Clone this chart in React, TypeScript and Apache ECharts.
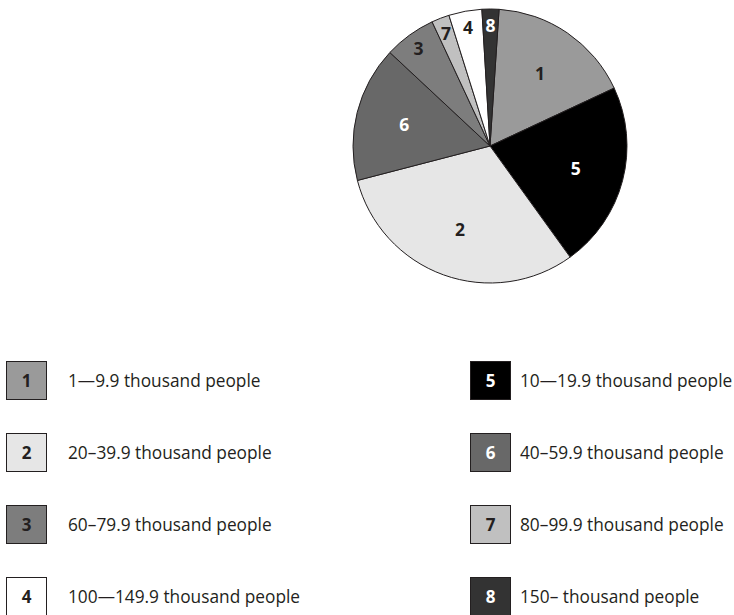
import React, { useEffect, useRef } from "react";
import * as echarts from "echarts";

// Data (clockwise order from the top of the pie)
const categories = ["1", "5", "2", "6", "3", "7", "4", "8"];
const descriptions = [
  "1—9.9 thousand people",
  "10—19.9 thousand people",
  "20–39.9 thousand people",
  "40–59.9 thousand people",
  "60–79.9 thousand people",
  "80–99.9 thousand people",
  "100—149.9 thousand people",
  "150– thousand people",
];
const shares = [17.0, 22.0, 30.9, 16.0, 6.1, 2.1, 3.9, 2.0];
const leftLegend = ["1", "2", "3", "4"];
const rightLegend = ["5", "6", "7", "8"];

// Styles
const sliceColors: Record<string, string> = {
  "1": "#9a9a9a",
  "2": "#e6e6e6",
  "3": "#7d7d7d",
  "4": "#ffffff",
  "5": "#000000",
  "6": "#686868",
  "7": "#c0c0c0",
  "8": "#333333",
};
const whiteLabels = ["5", "6", "8"];
const INK = "#231f20";
const FONT = "'Open Sans', 'Noto Sans', sans-serif";

const labelColor = (c: string) => (whiteLabels.includes(c) ? "#ffffff" : INK);

export default function App() {
  const ref = useRef<HTMLDivElement>(null);

  useEffect(() => {
    if (!ref.current) return;
    const chart = echarts.init(ref.current, null, { renderer: "svg" });

    const rich: Record<string, any> = {
      t: { fontSize: 17.3, color: INK, fontFamily: FONT, padding: [0, 0, 0, 22], lineHeight: 37, verticalAlign: "middle" },
      tr: { fontSize: 17.3, color: INK, fontFamily: FONT, padding: [0, 0, 0, 10], lineHeight: 37, verticalAlign: "middle" },
    };
    categories.forEach((c) => {
      rich["b" + c] = {
        width: 39,
        height: 37,
        lineHeight: 37,
        align: "center",
        verticalAlign: "middle",
        backgroundColor: sliceColors[c],
        borderColor: INK,
        borderWidth: 1,
        fontWeight: "bold",
        fontSize: 17,
        fontFamily: FONT,
        color: labelColor(c),
      };
    });

    const legendFormatter = (name: string) => {
      const i = categories.indexOf(name);
      const key = rightLegend.includes(name) ? "tr" : "t";
      return `{b${name}|${name}}{${key}|${descriptions[i]}}`;
    };

    const legendBase = {
      orient: "vertical",
      top: 361,
      height: 500,
      padding: 0,
      itemGap: 33,
      itemWidth: 0,
      itemHeight: 0,
      icon: "none",
      selectedMode: false,
      formatter: legendFormatter,
      textStyle: { rich, fontFamily: FONT },
    };

    const baseData = categories.map((c, i) => ({ name: c, value: shares[i] }));

    const labelSeries = (r0: number, showFn: (v: number) => boolean) => ({
      type: "pie",
      center: [490, 146],
      radius: [r0, 137],
      startAngle: 86.2,
      silent: true,
      avoidLabelOverlap: false,
      emphasis: { disabled: true },
      labelLine: { show: false },
      itemStyle: { color: "transparent", borderWidth: 0 },
      data: categories.map((c, i) => ({
        name: c,
        value: shares[i],
        itemStyle: { color: "transparent" },
        label: {
          show: showFn(shares[i]),
          position: "inside",
          formatter: "{b}",
          fontFamily: FONT,
          fontWeight: "bold",
          fontSize: 17.5,
          color: labelColor(c),
        },
      })),
    });

    chart.setOption({
      animation: false,
      legend: [
        { ...legendBase, left: 2, data: leftLegend },
        { ...legendBase, left: 466, data: rightLegend },
      ],
      series: [
        {
          type: "pie",
          center: [490, 146],
          radius: [0, 137],
          startAngle: 86.2,
          avoidLabelOverlap: false,
          emphasis: { disabled: true },
          label: { show: false },
          labelLine: { show: false },
          itemStyle: { borderColor: INK, borderWidth: 1 },
          data: baseData.map((d) => ({ ...d, itemStyle: { color: sliceColors[d.name] } })),
        },
        labelSeries(34, (v) => v >= 10),
        labelSeries(100, (v) => v < 10),
      ],
    });

    return () => chart.dispose();
  }, []);

  return (
    <div
      ref={ref}
      style={{ position: "absolute", left: 0, top: 0, width: 734, height: 615, background: "#ffffff" }}
    />
  );
}
